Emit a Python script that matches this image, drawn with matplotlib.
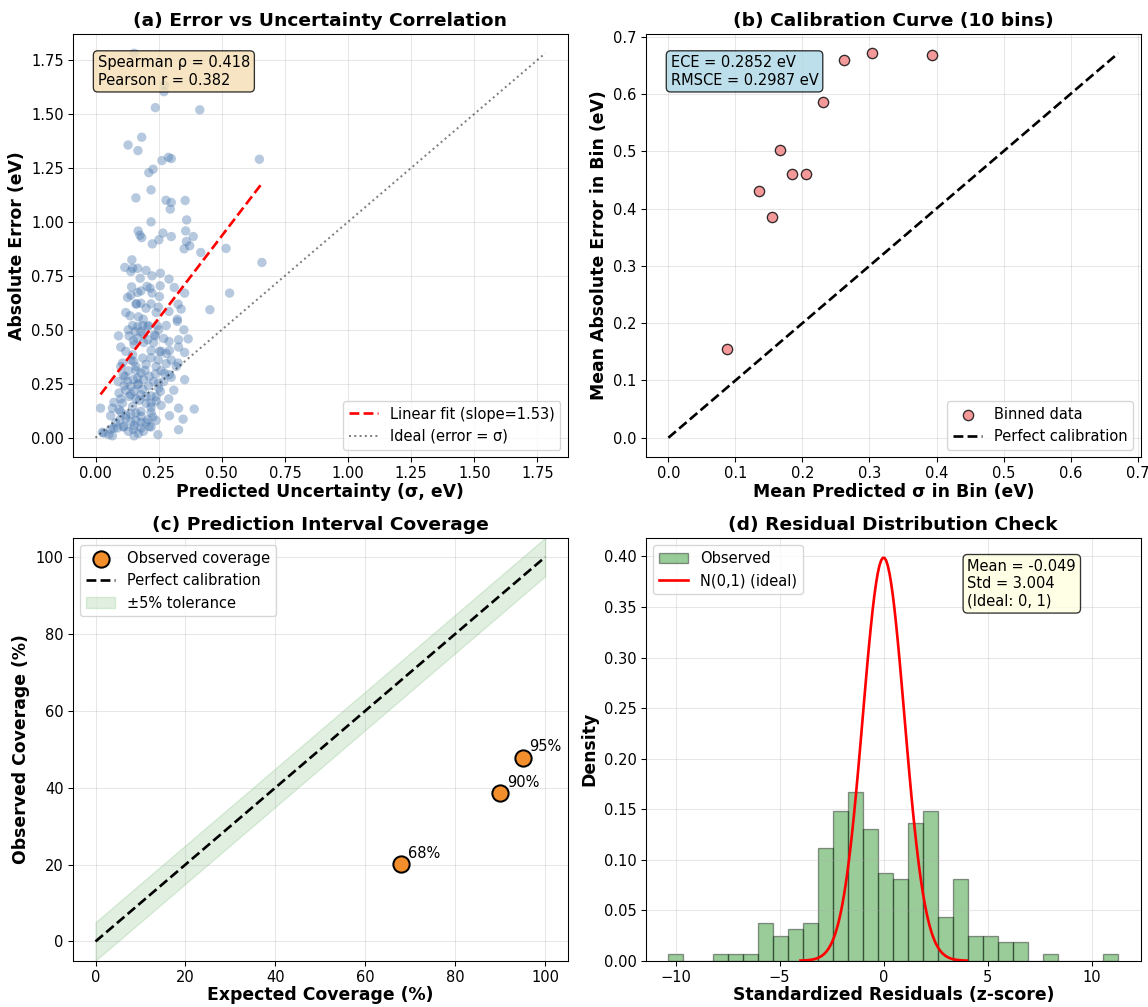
import numpy as np
import matplotlib
matplotlib.use("Agg")
import matplotlib.pyplot as plt

# (a) predicted sigma vs absolute error
sigma_pred = [
    0.153, 0.273, 0.271, 0.237, 0.413, 0.183, 0.129, 0.168, 0.263, 0.289,
    0.300, 0.649, 0.211, 0.228, 0.220, 0.160, 0.279, 0.300, 0.296, 0.355,
    0.220, 0.361, 0.169, 0.183, 0.176, 0.225, 0.251, 0.267, 0.300, 0.357,
    0.360, 0.387, 0.351, 0.373, 0.417, 0.517, 0.659, 0.144, 0.116, 0.147,
    0.167, 0.200, 0.224, 0.257, 0.140, 0.177, 0.291, 0.143, 0.204, 0.216,
    0.256, 0.312, 0.167, 0.224, 0.353, 0.531, 0.127, 0.253, 0.163, 0.180,
    0.249, 0.327, 0.339, 0.291, 0.453, 0.137, 0.189, 0.324, 0.147, 0.167,
    0.187, 0.207, 0.244, 0.324, 0.157, 0.180, 0.233, 0.091, 0.133, 0.167,
    0.207, 0.237, 0.291, 0.329, 0.367, 0.153, 0.191, 0.220, 0.253, 0.293,
    0.329, 0.353, 0.107, 0.147, 0.151, 0.187, 0.249, 0.280, 0.327, 0.160,
    0.196, 0.237, 0.273, 0.320, 0.117, 0.167, 0.213, 0.249, 0.293, 0.353,
    0.127, 0.140, 0.167, 0.187, 0.113, 0.153, 0.093, 0.133, 0.200, 0.220,
    0.257, 0.240, 0.173, 0.073, 0.107, 0.220, 0.147, 0.067, 0.093, 0.020,
    0.180, 0.220, 0.329, 0.391, 0.120, 0.160, 0.060, 0.293, 0.227, 0.347,
    0.097, 0.140, 0.180, 0.207, 0.087, 0.113, 0.153, 0.180, 0.213, 0.033,
    0.053, 0.067, 0.153, 0.247, 0.329, 0.073, 0.027,
    0.10, 0.12, 0.14, 0.16, 0.18, 0.20, 0.22, 0.24, 0.26, 0.13,
    0.11, 0.15, 0.17, 0.19, 0.21, 0.23, 0.25, 0.27, 0.12, 0.14,
    0.16, 0.18, 0.20, 0.22, 0.24, 0.26, 0.10, 0.12, 0.14, 0.16,
    0.18, 0.20, 0.22, 0.24, 0.11, 0.13, 0.15, 0.17, 0.19, 0.08,
    0.06, 0.09, 0.10, 0.13, 0.15, 0.17, 0.19, 0.21, 0.23, 0.25,
    0.27, 0.28, 0.30, 0.30, 0.29, 0.31, 0.16, 0.20, 0.24, 0.14,
    0.18, 0.26, 0.12, 0.22, 0.28, 0.35, 0.10,
]
abs_error = [
    1.781, 1.634, 1.603, 1.529, 1.519, 1.392, 1.356, 1.330, 1.284, 1.299,
    1.293, 1.290, 1.228, 1.244, 1.148, 1.111, 1.100, 1.090, 1.059, 1.099,
    1.000, 1.009, 0.958, 0.927, 0.938, 0.898, 0.917, 0.948, 0.932, 0.958,
    0.909, 0.932, 0.875, 0.889, 0.858, 0.877, 0.812, 0.824, 0.789, 0.785,
    0.785, 0.775, 0.750, 0.762, 0.770, 0.739, 0.735, 0.699, 0.701, 0.693,
    0.704, 0.696, 0.673, 0.670, 0.670, 0.670, 0.650, 0.654, 0.620, 0.623,
    0.605, 0.619, 0.596, 0.585, 0.593, 0.565, 0.549, 0.549, 0.520, 0.515,
    0.519, 0.515, 0.519, 0.539, 0.492, 0.492, 0.477, 0.472, 0.472, 0.461,
    0.454, 0.472, 0.446, 0.454, 0.458, 0.431, 0.441, 0.404, 0.400, 0.404,
    0.420, 0.395, 0.346, 0.384, 0.353, 0.369, 0.361, 0.343, 0.346, 0.312,
    0.312, 0.296, 0.299, 0.330, 0.284, 0.276, 0.284, 0.253, 0.292, 0.269,
    0.261, 0.238, 0.245, 0.225, 0.241, 0.215, 0.207, 0.191, 0.191, 0.194,
    0.215, 0.191, 0.173, 0.164, 0.160, 0.160, 0.145, 0.137, 0.130, 0.137,
    0.122, 0.117, 0.137, 0.133, 0.106, 0.114, 0.102, 0.102, 0.096, 0.086,
    0.083, 0.076, 0.071, 0.083, 0.045, 0.052, 0.056, 0.045, 0.052, 0.022,
    0.014, 0.009, 0.009, 0.014, 0.037, 0.045, 0.025,
    0.42, 0.40, 0.36, 0.33, 0.30, 0.34, 0.37, 0.33, 0.31, 0.31,
    0.29, 0.27, 0.25, 0.27, 0.24, 0.26, 0.23, 0.26, 0.22, 0.20,
    0.18, 0.20, 0.16, 0.14, 0.17, 0.15, 0.12, 0.09, 0.11, 0.08,
    0.10, 0.07, 0.05, 0.08, 0.05, 0.03, 0.04, 0.02, 0.03, 0.07,
    0.04, 0.26, 0.33, 0.50, 0.45, 0.56, 0.48, 0.52, 0.44, 0.50,
    0.46, 0.39, 0.36, 0.28, 0.18, 0.22, 0.62, 0.60, 0.58, 0.66,
    0.68, 0.40, 0.58, 0.62, 0.52, 0.50, 0.18,
]
fit_slope = 1.53
fit_intercept = 0.17
spearman_rho = 0.418
pearson_r = 0.382

# (b) calibration bins
bin_sigma = [0.088, 0.135, 0.154, 0.167, 0.184, 0.206, 0.230, 0.262, 0.303, 0.394]
bin_error = [0.155, 0.431, 0.385, 0.502, 0.460, 0.461, 0.586, 0.659, 0.671, 0.668]
ece = 0.2852
rmsce = 0.2987

# (c) interval coverage
expected_cov = [68, 90, 95]
observed_cov = [20.1, 38.5, 47.7]
cov_labels = ["68%", "90%", "95%"]

# (d) standardized residual histogram (30 bins)
z_lo, z_hi = -10.35, 11.28
z_counts = [1, 0, 0, 1, 1, 1, 6, 4, 5, 6, 18, 24, 27, 21, 14,
            13, 22, 24, 7, 13, 4, 4, 3, 3, 0, 1, 0, 0, 0, 1]
z_mean = -0.049
z_std = 3.004

DPI = 1148 / 12
fig, axes = plt.subplots(2, 2, figsize=(12, 1007 / DPI), dpi=DPI)
plt.subplots_adjust(left=0.0636, right=0.9936, top=0.9662, bottom=0.0460,
                    wspace=0.158, hspace=0.191)

TITLE = dict(fontsize=14, fontweight="bold")
LABEL = dict(fontsize=13, fontweight="bold")
XLABEL = dict(fontsize=13, fontweight="bold", labelpad=1)

# (a) Error vs uncertainty
ax = axes[0, 0]
ax.scatter(sigma_pred, abs_error, s=50, alpha=0.4, color="#4a78b0", edgecolors="none")
xs = np.array([min(sigma_pred), max(sigma_pred)])
ax.plot(xs, fit_slope * xs + fit_intercept, "r--", lw=2,
        label=f"Linear fit (slope={fit_slope:.2f})")
max_val = max(max(sigma_pred), max(abs_error))
ax.plot([0, max_val], [0, max_val], "k:", lw=1.5, alpha=0.5, label="Ideal (error = σ)")
ax.set_xlabel("Predicted Uncertainty (σ, eV)", **XLABEL)
ax.set_ylabel("Absolute Error (eV)", **LABEL)
ax.set_title("(a) Error vs Uncertainty Correlation", **TITLE)
ax.text(0.05, 0.95, f"Spearman ρ = {spearman_rho:.3f}\nPearson r = {pearson_r:.3f}",
        transform=ax.transAxes, fontsize=11, va="top",
        bbox=dict(boxstyle="round", facecolor="wheat", alpha=0.8))
ax.legend(loc="lower right", fontsize=11)

# (b) Calibration curve
ax = axes[0, 1]
ax.scatter(bin_sigma, bin_error, s=60, color="lightcoral", edgecolors="black",
           alpha=0.8, zorder=3, label="Binned data")
lim = max(max(bin_sigma), max(bin_error))
ax.plot([0, lim], [0, lim], "k--", lw=2, label="Perfect calibration")
ax.set_xlabel("Mean Predicted σ in Bin (eV)", **XLABEL)
ax.set_ylabel("Mean Absolute Error in Bin (eV)", **LABEL)
ax.set_title("(b) Calibration Curve (10 bins)", **TITLE)
ax.text(0.05, 0.95, f"ECE = {ece:.4f} eV\nRMSCE = {rmsce:.4f} eV",
        transform=ax.transAxes, fontsize=11, va="top",
        bbox=dict(boxstyle="round", facecolor="lightblue", alpha=0.8))
ax.legend(loc="lower right", fontsize=11)

# (c) Coverage
ax = axes[1, 0]
ax.scatter(expected_cov, observed_cov, s=150, color="#f28e2b", edgecolors="black",
           linewidths=1.5, zorder=5, label="Observed coverage")
ideal = np.array([0, 100])
ax.plot(ideal, ideal, "k--", lw=2, label="Perfect calibration")
ax.fill_between(ideal, ideal - 5, ideal + 5, color="green", alpha=0.12,
                label="±5% tolerance")
for ex, ob, lab in zip(expected_cov, observed_cov, cov_labels):
    ax.annotate(lab, (ex, ob), xytext=(5, 5), textcoords="offset points", fontsize=11)
ax.set_xlim(-5, 105)
ax.set_ylim(-5, 105)
ax.set_xlabel("Expected Coverage (%)", **XLABEL)
ax.set_ylabel("Observed Coverage (%)", **LABEL)
ax.set_title("(c) Prediction Interval Coverage", **TITLE)
ax.legend(loc="upper left", fontsize=11)

# (d) Residual histogram
ax = axes[1, 1]
edges = np.linspace(z_lo, z_hi, len(z_counts) + 1)
centers = (edges[:-1] + edges[1:]) / 2
ax.hist(centers, bins=edges, weights=z_counts, density=True, color="green",
        alpha=0.4, edgecolor="black", label="Observed")
zz = np.linspace(-4, 4, 100)
ax.plot(zz, np.exp(-zz ** 2 / 2) / np.sqrt(2 * np.pi), "r-", lw=2, label="N(0,1) (ideal)")
ax.text(0.65, 0.95, f"Mean = {z_mean:.3f}\nStd = {z_std:.3f}\n(Ideal: 0, 1)",
        transform=ax.transAxes, fontsize=11, va="top",
        bbox=dict(boxstyle="round", facecolor="lightyellow", alpha=0.8))
ax.set_xlabel("Standardized Residuals (z-score)", **XLABEL)
ax.set_ylabel("Density", **LABEL)
ax.set_title("(d) Residual Distribution Check", **TITLE)
ax.legend(loc="upper left", fontsize=11)

for ax in axes.flat:
    ax.grid(True, alpha=0.3)
    ax.tick_params(labelsize=11)

plt.savefig("out.png", dpi=DPI)
